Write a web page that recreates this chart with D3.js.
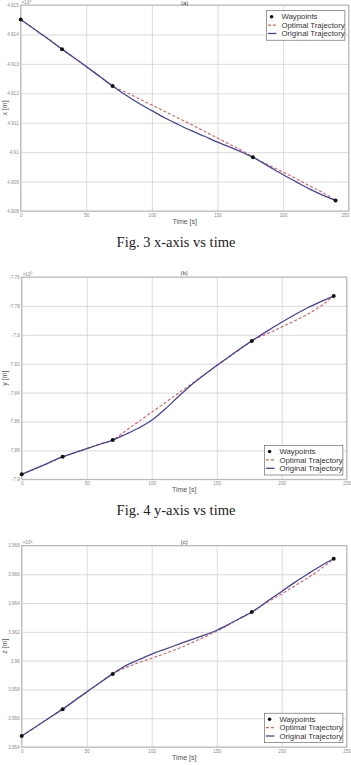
<html>

<head>
    <script src="https://cdn.jsdelivr.net/npm/d3@7"></script>
    <style>
        body { margin: 0; background: #fff; }
        svg { display: block; font-family: 'Liberation Sans', Arial, sans-serif; }
    </style>
</head>

<body>
    <script>

        // sample times [s]
        var time = [0, 10, 20, 31.5, 45, 60, 70, 80, 90, 100, 110, 120, 130, 140, 150, 160, 170, 177, 190, 200, 210, 220, 230, 240];
        var wpTime = [0, 31.5, 70, 177, 240];

        // x [m], x10^6
        var wpX = [4.91451, 4.91350, 4.91225, 4.90983, 4.90836];
        var origX = [4.91451, 4.91419, 4.91388, 4.91350, 4.91307, 4.91258, 4.91225, 4.91194, 4.91166, 4.91141, 4.91116, 4.91094,
            4.91073, 4.91054, 4.91034, 4.91016, 4.90997, 4.90983, 4.90949, 4.90923, 4.90899, 4.90875, 4.90854, 4.90836];
        var optX = [4.91451, 4.91419, 4.91388, 4.91350, 4.91307, 4.91258, 4.91225, 4.91204, 4.91182, 4.91160, 4.91138, 4.91116,
            4.91094, 4.91071, 4.91048, 4.91025, 4.91002, 4.90983, 4.90954, 4.90932, 4.90910, 4.90886, 4.90863, 4.90836];

        // y [m], x10^5
        var wpY = [-7.89654, -7.88438, -7.87284, -7.80422, -7.77312];
        var origY = [-7.89654, -7.89274, -7.88894, -7.88438, -7.88030, -7.87574, -7.87284, -7.86883, -7.86448, -7.85916, -7.85169, -7.84319,
            -7.83504, -7.82792, -7.82122, -7.81479, -7.80850, -7.80422, -7.79675, -7.79129, -7.78611, -7.78127, -7.77706, -7.77312];
        var optY = [-7.89654, -7.89274, -7.88894, -7.88438, -7.88030, -7.87574, -7.87284, -7.86643, -7.86001, -7.85360, -7.84719, -7.84077,
            -7.83436, -7.82795, -7.82153, -7.81512, -7.80871, -7.80422, -7.79883, -7.79461, -7.79033, -7.78576, -7.78017, -7.77312];

        // z [m], x10^6
        var wpZ = [3.95476, 3.95663, 3.95908, 3.96338, 3.96708];
        var origZ = [3.95476, 3.95536, 3.95595, 3.95663, 3.95750, 3.95846, 3.95908, 3.95965, 3.96006, 3.96045, 3.96079, 3.96112,
            3.96145, 3.96176, 3.96211, 3.96256, 3.96304, 3.96338, 3.96419, 3.96481, 3.96544, 3.96602, 3.96658, 3.96708];
        var optZ = [3.95476, 3.95536, 3.95595, 3.95663, 3.95750, 3.95846, 3.95908, 3.95951, 3.95986, 3.96017, 3.96048, 3.96083,
            3.96121, 3.96162, 3.96205, 3.96252, 3.96304, 3.96338, 3.96412, 3.96464, 3.96519, 3.96575, 3.96637, 3.96708];

        var xTicks = [0, 50, 100, 150, 200, 250];
        var yTicksA = [4.908, 4.909, 4.91, 4.911, 4.912, 4.913, 4.914, 4.915];
        var yTicksB = [-7.9, -7.88, -7.86, -7.84, -7.82, -7.8, -7.78, -7.76];
        var yTicksC = [3.954, 3.956, 3.958, 3.96, 3.962, 3.964, 3.966, 3.968];

        var legendNames = ['Waypoints', 'Optimal Trajectory', 'Original Trajectory'];
        var captions = ['Fig. 3 x-axis vs time', 'Fig. 4 y-axis vs time'];

        var w = 351, h = 765;
        var solidColor = '#44439f', dashColor = '#de5c58';

        var svg = d3.select('body')
            .append('svg')
            .attr('width', w)
            .attr('height', h);

        function fmt(v) {
            return String(+v.toFixed(4));
        }

        function panel(o) {
            var x = d3.scaleLinear().domain([0, 250]).range([o.left, o.right]);
            var y = d3.scaleLinear().domain(d3.extent(o.yTicks)).range([o.bottom, o.top]);
            var g = svg.append('g');

            // grid + tick labels
            var gx = g.append('g')
                .attr('transform', 'translate(0,' + o.bottom + ')')
                .call(d3.axisBottom(x).tickValues(xTicks).tickFormat(d3.format('d'))
                    .tickSize(-(o.bottom - o.top)).tickPadding(2.6));
            var gy = g.append('g')
                .attr('transform', 'translate(' + o.left + ',0)')
                .call(d3.axisLeft(y).tickValues(o.yTicks).tickFormat(fmt)
                    .tickSize(-(o.right - o.left)).tickPadding(2));
            [gx, gy].forEach((a) => {
                a.select('.domain').remove();
                a.selectAll('line').attr('stroke', '#d2d2d2').attr('stroke-width', 0.8);
                a.selectAll('text').attr('fill', '#8a8a8a').attr('font-size', 4.6);
            });
            // last time label sits on the window edge
            gx.selectAll('text').filter((d) => d == 250 && o.right > 348).attr('text-anchor', 'end');

            g.append('rect')
                .attr('x', o.left).attr('y', o.top)
                .attr('width', o.right - o.left).attr('height', o.bottom - o.top)
                .attr('fill', 'none').attr('stroke', '#a8a8a8').attr('stroke-width', 0.8);

            // exponent + title
            var ex = g.append('text')
                .attr('x', o.left + 1).attr('y', o.top - 1.2)
                .attr('font-size', 4.6).attr('fill', '#8a8a8a')
                .text('\u00d710');
            ex.append('tspan').attr('dy', -1.6).attr('font-size', 3.6).text(o.exp);

            g.append('text')
                .attr('x', (o.left + o.right) / 2).attr('y', Math.max(o.top - 2, 4.8))
                .attr('text-anchor', 'middle').attr('font-size', 6).attr('fill', '#444')
                .text(o.title);

            g.append('text')
                .attr('x', (o.left + o.right) / 2).attr('y', o.bottom + 12.5)
                .attr('text-anchor', 'middle').attr('font-size', 7).attr('fill', '#555')
                .text('Time [s]');

            g.append('text')
                .attr('transform', 'translate(6.5,' + (o.top + o.bottom) / 2 + ') rotate(-90)')
                .attr('text-anchor', 'middle').attr('font-size', 7).attr('fill', '#555')
                .text(o.ylabel);

            // curves
            var line = d3.line()
                .x((d, i) => x(time[i]))
                .y((d) => y(d))
                .curve(d3.curveMonotoneX);

            g.append('path').attr('d', line(o.opt))
                .attr('fill', 'none').attr('stroke', dashColor)
                .attr('stroke-width', 1.1).attr('stroke-dasharray', '3,2');
            g.append('path').attr('d', line(o.orig))
                .attr('fill', 'none').attr('stroke', solidColor).attr('stroke-width', 1.3);

            g.selectAll('circle.wp')
                .data(o.wp)
                .enter()
                .append('circle')
                .attr('class', 'wp')
                .attr('cx', (d, i) => x(wpTime[i]))
                .attr('cy', (d) => y(d))
                .attr('r', 2)
                .attr('fill', '#111');

            // legend
            var lw = 78.5, lh = 29.5;
            var lx = o.right - lw - 3.8;
            var ly = o.legendTop ? o.top + 5.7 : o.bottom - lh - 4.3;
            var lg = g.append('g').attr('transform', 'translate(' + lx + ',' + ly + ')');
            lg.append('rect').attr('width', lw).attr('height', lh)
                .attr('fill', '#fff').attr('stroke', '#555').attr('stroke-width', 0.6);

            var items = lg.selectAll('g.item')
                .data(legendNames)
                .enter()
                .append('g')
                .attr('class', 'item')
                .attr('transform', (d, i) => 'translate(0,' + (6 + i * 8.4) + ')');

            items.append('text')
                .attr('x', 15).attr('dy', '0.35em')
                .attr('font-size', 7.8).attr('fill', '#333')
                .text((d) => d);

            items.filter((d, i) => i == 0).append('circle')
                .attr('cx', 5.2).attr('r', 1.8).attr('fill', '#111');
            items.filter((d, i) => i == 1).append('line')
                .attr('x1', 1.5).attr('x2', 10).attr('stroke', dashColor)
                .attr('stroke-width', 1.1).attr('stroke-dasharray', '3,2');
            items.filter((d, i) => i == 2).append('line')
                .attr('x1', 1.5).attr('x2', 10).attr('stroke', solidColor).attr('stroke-width', 1.3);
        }

        panel({ left: 20.7, right: 348.7, top: 5, bottom: 211, yTicks: yTicksA, exp: '6', title: '(a)',
            ylabel: 'x [m]', wp: wpX, orig: origX, opt: optX, legendTop: true });
        panel({ left: 21.7, right: 346.7, top: 277, bottom: 479.3, yTicks: yTicksB, exp: '5', title: '(b)',
            ylabel: 'y [m]', wp: wpY, orig: origY, opt: optY, legendTop: false });
        panel({ left: 21.7, right: 346.7, top: 545.5, bottom: 747, yTicks: yTicksC, exp: '6', title: '(c)',
            ylabel: 'z [m]', wp: wpZ, orig: origZ, opt: optZ, legendTop: false });

        svg.selectAll('text.caption')
            .data(captions)
            .enter()
            .append('text')
            .attr('class', 'caption')
            .attr('x', 176)
            .attr('y', (d, i) => i == 0 ? 247 : 515)
            .attr('text-anchor', 'middle')
            .attr('font-family', "'Liberation Serif', 'Times New Roman', serif")
            .attr('font-size', 14.5)
            .attr('fill', '#222')
            .text((d) => d);

    </script>

</body>

</html>
